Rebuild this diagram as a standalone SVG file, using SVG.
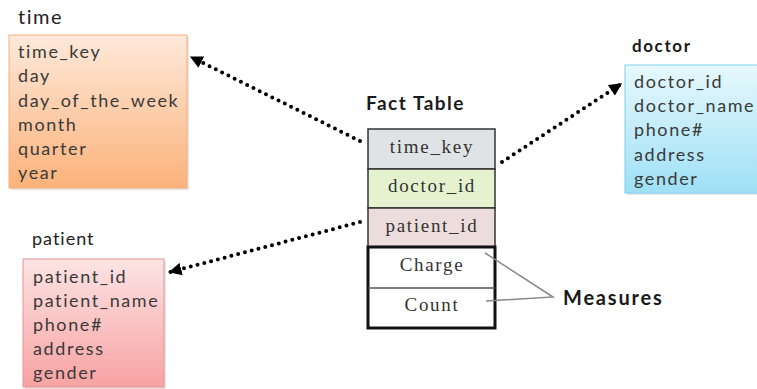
<svg xmlns="http://www.w3.org/2000/svg" width="757" height="389" viewBox="0 0 757 389">
<style>
.t{font-family:Lato,"Open Sans",sans-serif;font-size:18px;letter-spacing:1.6px;fill:#3a3a3a}
.h{font-family:Lato,"Open Sans",sans-serif;fill:#222}
.b{font-family:Lato,"Open Sans",sans-serif;font-weight:bold;fill:#1a1a1a}
.f{font-family:"Liberation Serif","Times New Roman",serif;font-size:19px;letter-spacing:1.7px;fill:#333;text-anchor:middle}
.dot{stroke:#000;stroke-width:4;stroke-linecap:round;stroke-dasharray:0 7;fill:none}
.m{stroke:#888;stroke-width:1.5;fill:none}
</style>
<defs>
<linearGradient id="gTime" x1="0" y1="0" x2="0" y2="1"><stop offset="0" stop-color="#fee9da"/><stop offset="1" stop-color="#fbb27a"/></linearGradient>
<linearGradient id="gDoc" x1="0" y1="0" x2="0" y2="1"><stop offset="0" stop-color="#e7f8fd"/><stop offset="1" stop-color="#9ee0f6"/></linearGradient>
<linearGradient id="gPat" x1="0" y1="0" x2="0" y2="1"><stop offset="0" stop-color="#fde4e4"/><stop offset="1" stop-color="#f8a2a2"/></linearGradient>
<marker id="arr" viewBox="0 0 10 10" refX="9" refY="5" markerWidth="3.2" markerHeight="3.2" orient="auto" markerUnits="strokeWidth"><path d="M0,0 L10,5 L0,10 z" fill="#000"/></marker>
</defs>

<g id="time">
<text class="h" x="18" y="24" font-size="20" letter-spacing="1.5">time</text>
<rect x="11" y="37" width="178" height="153" fill="#ccc" opacity="0.5"/>
<rect x="9" y="35" width="178" height="153" fill="url(#gTime)" stroke="#f3b07c" stroke-width="1"/>
<text class="t" x="18" y="58">time_key</text>
<text class="t" x="18" y="82">day</text>
<text class="t" x="18" y="107">day_of_the_week</text>
<text class="t" x="18" y="131">month</text>
<text class="t" x="18" y="155">quarter</text>
<text class="t" x="18" y="179">year</text>
</g>

<g id="doctor">
<text class="b" x="632" y="52" font-size="17" letter-spacing="1.6">doctor</text>
<rect x="627" y="67" width="140" height="128" fill="#ccc" opacity="0.5"/>
<rect x="625" y="65" width="140" height="128" fill="url(#gDoc)" stroke="#7fcfec" stroke-width="1"/>
<text class="t" x="634" y="88">doctor_id</text>
<text class="t" x="634" y="112">doctor_name</text>
<text class="t" x="634" y="136">phone#</text>
<text class="t" x="634" y="161">address</text>
<text class="t" x="634" y="185">gender</text>
</g>

<g id="patient">
<text class="h" x="32" y="245" font-size="18" letter-spacing="1">patient</text>
<rect x="25" y="261" width="141" height="128" fill="#ccc" opacity="0.5"/>
<rect x="23" y="259" width="141" height="128" fill="url(#gPat)" stroke="#e79393" stroke-width="1"/>
<text class="t" x="33" y="283">patient_id</text>
<text class="t" x="33" y="307">patient_name</text>
<text class="t" x="33" y="331">phone#</text>
<text class="t" x="33" y="355">address</text>
<text class="t" x="33" y="379">gender</text>
</g>

<g id="fact">
<text class="b" x="366" y="110" font-size="19" letter-spacing="1.5">Fact Table</text>
<rect x="368" y="129" width="127" height="40" fill="#e0e3e6" stroke="#333" stroke-width="1.5"/>
<rect x="368" y="169" width="127" height="39" fill="#e5f2d0" stroke="#333" stroke-width="1.5"/>
<rect x="368" y="208" width="127" height="39" fill="#eddcdc" stroke="#333" stroke-width="1.5"/>
<rect x="368" y="247" width="127" height="81" fill="#fff" stroke="#111" stroke-width="3"/>
<line x1="368" y1="288" x2="495" y2="288" stroke="#555" stroke-width="1.5"/>
<text class="f" x="432" y="153">time_key</text>
<text class="f" x="432" y="192">doctor_id</text>
<text class="f" x="432" y="232">patient_id</text>
<text class="f" x="432" y="271">Charge</text>
<text class="f" x="432" y="311">Count</text>
</g>

<g id="measures">
<text class="b" x="563" y="305" font-size="20" letter-spacing="1.8">Measures</text>
</g>

<g id="connectors">
<line class="dot" x1="360" y1="141" x2="191" y2="57" marker-end="url(#arr)"/>
<line class="dot" x1="502" y1="162" x2="621" y2="84" marker-end="url(#arr)"/>
<line class="dot" x1="360" y1="222" x2="170" y2="272" marker-end="url(#arr)"/>
<polyline class="m" points="485,253 553,297 486,301"/>
</g>
</svg>
